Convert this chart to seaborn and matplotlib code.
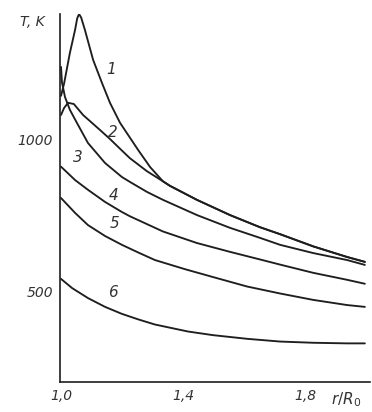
import matplotlib
matplotlib.use("Agg")
import matplotlib.pyplot as plt
import seaborn as sns
import pandas as pd

# r/R0 and T (K)
r1 = [1.000, 1.010, 1.029, 1.046, 1.053, 1.059, 1.066, 1.078, 1.105, 1.134, 1.160, 1.193,
      1.252, 1.291, 1.333, 1.356, 1.444, 1.552, 1.650, 1.716, 1.824, 1.935, 1.993]
T1 = [1145, 1185, 1286, 1362, 1400, 1414, 1402, 1362, 1263, 1187, 1122, 1056,
      967, 911, 864, 849, 803, 753, 713, 690, 650, 615, 599]

r2 = [1.000, 1.010, 1.023, 1.042, 1.072, 1.127, 1.160, 1.199, 1.225, 1.281, 1.333, 1.356,
      1.444, 1.552, 1.650, 1.716, 1.824, 1.935, 1.993]
T2 = [1082, 1105, 1122, 1118, 1082, 1033, 1003, 965, 940, 897, 864, 849,
      803, 753, 713, 690, 650, 615, 599]

r3 = [1.000, 1.003, 1.013, 1.029, 1.052, 1.088, 1.144, 1.199, 1.225, 1.281, 1.333,
      1.444, 1.552, 1.650, 1.716, 1.824, 1.935, 1.993]
T3 = [1240, 1190, 1141, 1099, 1056, 990, 924, 878, 862, 829, 803,
      753, 711, 678, 655, 628, 605, 589]

r4 = [1.000, 1.046, 1.088, 1.144, 1.199, 1.225, 1.333, 1.444, 1.552, 1.650, 1.716, 1.824, 1.935, 1.993]
T4 = [912, 868, 836, 796, 763, 749, 699, 661, 632, 607, 590, 563, 540, 527]

r5 = [1.000, 1.046, 1.088, 1.144, 1.199, 1.252, 1.307, 1.405, 1.497, 1.608, 1.716, 1.824, 1.935, 1.993]
T5 = [809, 760, 720, 684, 655, 630, 605, 575, 549, 518, 495, 474, 457, 451]

r6 = [1.000, 1.036, 1.088, 1.144, 1.199, 1.252, 1.307, 1.415, 1.497, 1.608, 1.716, 1.824, 1.935, 1.993]
T6 = [543, 513, 480, 451, 428, 410, 393, 370, 358, 346, 337, 333, 331, 331]

curve_names = ["1", "2", "3", "4", "5", "6"]
label_r = [1.165, 1.168, 1.056, 1.172, 1.175, 1.168]
label_T = [1230, 1023, 941, 816, 724, 497]

x_ticks = [1.0, 1.2, 1.4, 1.6, 1.8, 2.0]
x_ticklabels = ["1,0", "", "1,4", "", "1,8", ""]
y_ticks = [500, 1000]
y_ticklabels = ["500", "1000"]

sns.set_style("white")
plt.rcParams["font.family"] = ["DejaVu Sans"]

fig = plt.figure(figsize=(3.72, 4.12), dpi=100)
ax = fig.add_axes([60 / 372, 30 / 412, 310 / 372, 368 / 412])

ink = "#1e1e1e"
series = [(r1, T1), (r2, T2), (r3, T3), (r4, T4), (r5, T5), (r6, T6)]
for (rr, tt) in series:
    df = pd.DataFrame({"r": rr, "T": tt})
    sns.lineplot(data=df, x="r", y="T", ax=ax, color=ink, lw=1.35,
                 sort=False, estimator=None, legend=False)

for name, lr, lt in zip(curve_names, label_r, label_T):
    ax.text(lr, lt, name, fontsize=11, style="italic", color="#333333",
            ha="center", va="center")

ax.set_xlim(0.9967, 2.0098)
ax.set_ylim(204, 1414)
ax.set_xticks(x_ticks)
ax.set_xticklabels(x_ticklabels)
ax.set_yticks(y_ticks)
ax.set_yticklabels(y_ticklabels)
ax.set_xlabel("")
ax.set_ylabel("")

for s in ["top", "right"]:
    ax.spines[s].set_visible(False)
for s in ["left", "bottom"]:
    ax.spines[s].set_color(ink)
    ax.spines[s].set_linewidth(1.2)

ax.tick_params(axis="x", direction="in", length=4, width=1.0, color=ink,
               labelsize=10, labelcolor="#333333", pad=5)
ax.tick_params(axis="y", direction="out", length=4, width=1.0, color=ink,
               labelsize=10, labelcolor="#333333", pad=1)
for lab in ax.get_xticklabels() + ax.get_yticklabels():
    lab.set_style("italic")

ax.text(1.93, -0.022, r"$r/R_0$", transform=ax.get_xaxis_transform(),
        fontsize=11, color="#333333", ha="center", va="top",
        math_fontfamily="dejavusans")
fig.text(32 / 372, 1 - 22 / 412, "T, K", fontsize=10, style="italic",
         color="#333333", ha="center", va="center")

fig.savefig("out.png", dpi=100, facecolor="white")
